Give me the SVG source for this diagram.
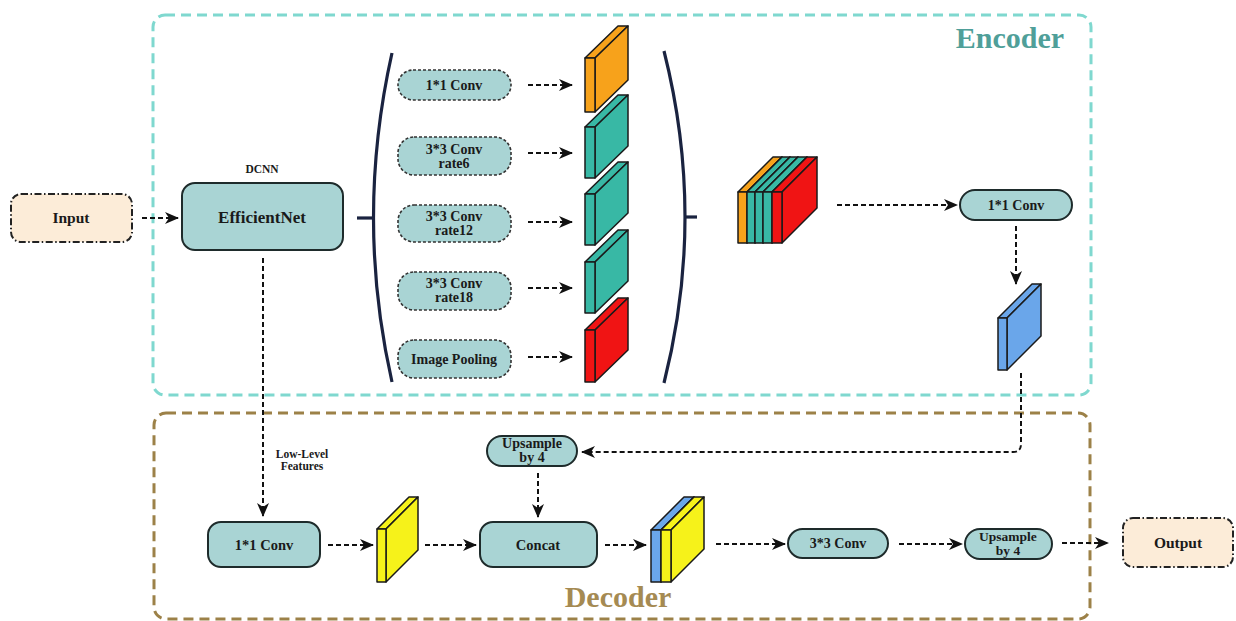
<svg xmlns="http://www.w3.org/2000/svg" width="1236" height="621" viewBox="0 0 1236 621">
<style>
text{font-family:"Liberation Serif","Times New Roman",serif;font-weight:bold;fill:#1a1a1a;text-anchor:middle}
.node{fill:#a9d4d4;stroke:#1e2b2b;stroke-width:2}
.pill{fill:#a9d4d4;stroke:#333;stroke-width:1.6;stroke-dasharray:3 2}
.io{fill:#fcecd8;stroke:#222;stroke-width:2;stroke-dasharray:7 2.5 1.5 2.5}
.conn{fill:none;stroke:#111;stroke-width:2;stroke-dasharray:5 3}
.slab{stroke:#1a1a1a;stroke-width:1.5;stroke-linejoin:round}
.or{fill:#f7a21b}.te{fill:#38b8a5}.rd{fill:#f01414}.bl{fill:#6aa6ea}.ye{fill:#f6f21a}
.par{fill:none;stroke:#1a2340;stroke-width:3.2}
</style>
<defs>
<marker id="ah" viewBox="0 0 14 12" markerWidth="14" markerHeight="12" refX="13" refY="6" orient="auto" markerUnits="userSpaceOnUse">
<path d="M0,0 L14,6 L0,12 L4,6 Z" fill="#111"/>
</marker>
</defs>

<g id="encoder-frame">
<rect x="153" y="15" width="938" height="380" rx="12" fill="none" stroke="#7fd8cf" stroke-width="3" stroke-dasharray="10 6"/>
<text x="1010" y="48" font-size="30" style="fill:#4f9f99">Encoder</text>
</g>
<g id="decoder-frame">
<rect x="154" y="413" width="936" height="206" rx="12" fill="none" stroke="#9c8148" stroke-width="3" stroke-dasharray="10 6"/>
<text x="618" y="607" font-size="30" style="fill:#a58a52">Decoder</text>
</g>

<g id="input"><rect class="io" x="11" y="194" width="121" height="48" rx="10"/><text x="71" y="223" font-size="15.5">Input</text></g>
<g id="efficientnet">
<text x="262" y="173" font-size="11.5">DCNN</text>
<rect class="node" x="182" y="183" width="161" height="67" rx="13"/>
<text x="262" y="223" font-size="17">EfficientNet</text>
</g>

<g id="aspp-brackets">
<path class="par" d="M357,218 H374"/>
<path class="par" d="M392,53 Q355,218 392,382"/>
<path class="par" d="M664,51 Q706,217 664,383"/>
<path class="par" d="M685,217 H697"/>
</g>

<g id="aspp-conv1"><rect class="pill" x="398" y="70" width="113" height="30" rx="15"/><text x="454" y="90" font-size="14">1*1 Conv</text></g>
<g id="aspp-rate6"><rect class="pill" x="398" y="137" width="113" height="38" rx="16"/><text x="454" y="154" font-size="14">3*3 Conv</text><text x="454" y="168" font-size="14">rate6</text></g>
<g id="aspp-rate12"><rect class="pill" x="398" y="205" width="113" height="37" rx="16"/><text x="454" y="221" font-size="14">3*3 Conv</text><text x="454" y="235" font-size="14">rate12</text></g>
<g id="aspp-rate18"><rect class="pill" x="398" y="272" width="113" height="38" rx="16"/><text x="454" y="288" font-size="14">3*3 Conv</text><text x="454" y="302" font-size="14">rate18</text></g>
<g id="aspp-pool"><rect class="pill" x="398" y="340" width="113" height="38" rx="16"/><text x="454" y="364" font-size="14">Image Pooling</text></g>

<g id="fm-orange">
<polygon class="slab or" points="585,58 618,26 628,26 595,58"/>
<polygon class="slab or" points="595,58 628,26 628,80 595,112"/>
<rect class="slab or" x="585" y="58" width="10" height="54"/>
</g>
<g id="fm-teal1">
<polygon class="slab te" points="585,127 618,95 628,95 595,127"/>
<polygon class="slab te" points="595,127 628,95 628,146 595,178"/>
<rect class="slab te" x="585" y="127" width="10" height="51"/>
</g>
<g id="fm-teal2">
<polygon class="slab te" points="585,194 618,162 628,162 595,194"/>
<polygon class="slab te" points="595,194 628,162 628,213 595,245"/>
<rect class="slab te" x="585" y="194" width="10" height="51"/>
</g>
<g id="fm-teal3">
<polygon class="slab te" points="585,262 618,230 628,230 595,262"/>
<polygon class="slab te" points="595,262 628,230 628,281 595,313"/>
<rect class="slab te" x="585" y="262" width="10" height="51"/>
</g>
<g id="fm-red">
<polygon class="slab rd" points="585,330 618,298 628,298 595,330"/>
<polygon class="slab rd" points="595,330 628,298 628,350 595,382"/>
<rect class="slab rd" x="585" y="330" width="10" height="52"/>
</g>

<g id="fm-concat">
<polygon class="slab or" points="738,192 773,157 782,157 747,192"/>
<polygon class="slab or" points="747,192 782,157 782,208 747,243"/>
<rect class="slab or" x="738" y="192" width="9" height="51"/>
<polygon class="slab te" points="747,192 782,157 790,157 755,192"/>
<polygon class="slab te" points="755,192 790,157 790,208 755,243"/>
<rect class="slab te" x="747" y="192" width="8" height="51"/>
<polygon class="slab te" points="755,192 790,157 798,157 763,192"/>
<polygon class="slab te" points="763,192 798,157 798,208 763,243"/>
<rect class="slab te" x="755" y="192" width="8" height="51"/>
<polygon class="slab te" points="763,192 798,157 807,157 772,192"/>
<polygon class="slab te" points="772,192 807,157 807,208 772,243"/>
<rect class="slab te" x="763" y="192" width="9" height="51"/>
<polygon class="slab rd" points="772,192 807,157 817,157 782,192"/>
<polygon class="slab rd" points="782,192 817,157 817,208 782,243"/>
<rect class="slab rd" x="772" y="192" width="10" height="51"/>
</g>

<g id="enc-conv1"><rect class="node" x="960" y="190" width="112" height="30" rx="15"/><text x="1016" y="210" font-size="14">1*1 Conv</text></g>

<g id="fm-blue">
<polygon class="slab bl" points="998,318 1032,284 1041,284 1007,318"/>
<polygon class="slab bl" points="1007,318 1041,284 1041,336 1007,370"/>
<rect class="slab bl" x="998" y="318" width="9" height="52"/>
</g>

<g id="dec-upsample1"><rect class="node" x="487" y="436" width="90" height="30" rx="15"/><text x="532" y="448" font-size="14">Upsample</text><text x="532" y="462" font-size="14">by 4</text></g>
<text x="302" y="458" font-size="11.5">Low-Level</text>
<text x="302" y="470" font-size="11.5">Features</text>

<g id="dec-conv1"><rect class="node" x="208" y="522" width="112" height="45" rx="13"/><text x="264" y="550" font-size="14.5">1*1 Conv</text></g>

<g id="fm-yellow">
<polygon class="slab ye" points="377,529 409,497 418,497 386,529"/>
<polygon class="slab ye" points="386,529 418,497 418,550 386,582"/>
<rect class="slab ye" x="377" y="529" width="9" height="53"/>
</g>

<g id="dec-concat"><rect class="node" x="480" y="522" width="117" height="45" rx="13"/><text x="538" y="550" font-size="14.5">Concat</text></g>

<g id="fm-blueyellow">
<polygon class="slab bl" points="651,530 684,497 694,497 661,530"/>
<polygon class="slab bl" points="661,530 694,497 694,549 661,582"/>
<rect class="slab bl" x="651" y="530" width="10" height="52"/>
<polygon class="slab ye" points="661,530 694,497 704,497 671,530"/>
<polygon class="slab ye" points="671,530 704,497 704,549 671,582"/>
<rect class="slab ye" x="661" y="530" width="10" height="52"/>
</g>

<g id="dec-conv3"><rect class="node" x="788" y="529" width="100" height="29" rx="14.5"/><text x="838" y="548" font-size="14">3*3 Conv</text></g>
<g id="dec-upsample2"><rect class="node" x="965" y="529" width="87" height="30" rx="15"/><text x="1008" y="541" font-size="13.5">Upsample</text><text x="1008" y="555" font-size="13.5">by 4</text></g>
<g id="output"><rect class="io" x="1123" y="518" width="110" height="49" rx="10"/><text x="1178" y="548" font-size="15.5">Output</text></g>

<g id="connectors">
<path class="conn" d="M142,218 H178" marker-end="url(#ah)"/>
<path class="conn" d="M528,85 H572" marker-end="url(#ah)"/>
<path class="conn" d="M528,153 H572" marker-end="url(#ah)"/>
<path class="conn" d="M528,222 H572" marker-end="url(#ah)"/>
<path class="conn" d="M528,288 H572" marker-end="url(#ah)"/>
<path class="conn" d="M528,357 H572" marker-end="url(#ah)"/>
<path class="conn" d="M837,205 H957" marker-end="url(#ah)"/>
<path class="conn" d="M1016,226 V284" marker-end="url(#ah)"/>
<path class="conn" d="M1021,373 V444 Q1021,452 1013,452 H582" marker-end="url(#ah)"/>
<path class="conn" d="M263,258 V516" marker-end="url(#ah)"/>
<path class="conn" d="M538,473 V517" marker-end="url(#ah)"/>
<path class="conn" d="M328,545 H373" marker-end="url(#ah)"/>
<path class="conn" d="M425,545 H476" marker-end="url(#ah)"/>
<path class="conn" d="M605,545 H646" marker-end="url(#ah)"/>
<path class="conn" d="M716,544 H785" marker-end="url(#ah)"/>
<path class="conn" d="M899,544 H962" marker-end="url(#ah)"/>
<path class="conn" d="M1062,543 H1108" marker-end="url(#ah)"/>
</g>
</svg>
